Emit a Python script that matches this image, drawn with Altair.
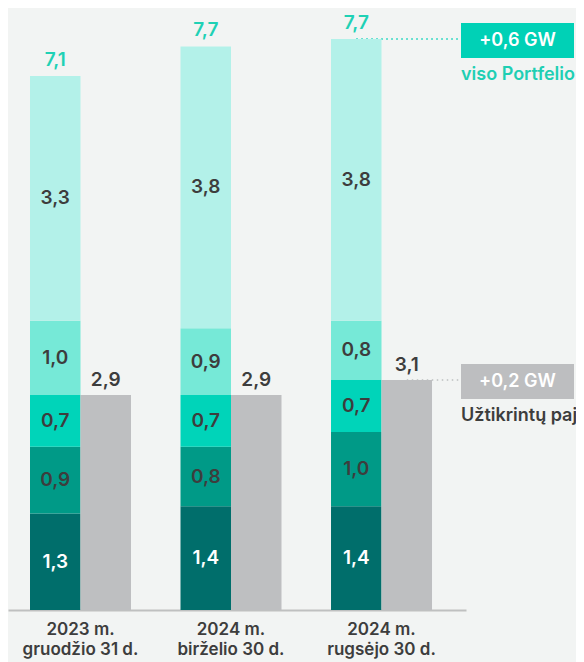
import altair as alt
import pandas as pd

# ---- data ----
groups = ["2023 m.|gruodžio 31 d.", "2024 m.|birželio 30 d.", "2024 m.|rugsėjo 30 d."]
kinds = ["Portfelis", "Užtikrinti pajėgumai"]
segments = ["Instaliuoti", "Statomi", "Užtikrinti", "Išvystyti", "Ankstyvos stadijos"]
seg_colors = ["#006e6b", "#009a87", "#00d4b9", "#76e9d7", "#b3f1e9"]

installed = [1.3, 1.4, 1.4]
under_construction = [0.9, 0.8, 1.0]
secured = [0.7, 0.7, 0.7]
advanced = [1.0, 0.9, 0.8]
early = [3.3, 3.8, 3.8]

portfolio_totals = [7.1, 7.7, 7.7]
secured_totals = [2.9, 2.9, 3.1]

annotation_labels = ["+0,6 GW", "+0,2 GW"]
annotation_captions = ["viso Portfelio", "Užtikrintų pajėgumų"]
annotation_colors = ["#00d1b6", "#bdbec0"]
caption_colors = ["#1fcfb3", "#3d3d3d"]

FONT = "Inter"
DARK = "#3d3d3d"
TEAL_TXT = "#1fd1b5"

# ---- tables ----
series = [installed, under_construction, secured, advanced, early]
rows = []
for gi, g in enumerate(groups):
    cum = 0.0
    for si, s in enumerate(segments):
        v = series[si][gi]
        rows.append({"group": g, "kind": kinds[0], "segment": s, "order": si,
                     "value": v, "mid": cum + v / 2,
                     "label": f"{v:.1f}".replace(".", ","),
                     "tc": "white" if si == 0 else DARK})
        cum += v
seg_df = pd.DataFrame(rows)

top_df = pd.DataFrame({
    "group": groups,
    "kind": kinds[0],
    "top": [sum(s[i] for s in series) for i in range(len(groups))],
    "label": [f"{t:.1f}".replace(".", ",") for t in portfolio_totals],
})

sec_df = pd.DataFrame({
    "group": groups,
    "kind": kinds[1],
    "value": secured_totals,
    "label": [f"{t:.1f}".replace(".", ",") for t in secured_totals],
})

ann_df = pd.DataFrame({
    "group": [groups[-1], groups[-1]],
    "kind": kinds,
    "anchor": [top_df["top"].iloc[-1], secured_totals[-1]],
    "label": annotation_labels,
    "caption": annotation_captions,
    "box": annotation_colors,
    "cc": caption_colors,
})

# ---- shared encodings ----
xscale = alt.Scale(domain=groups, paddingInner=0.3289, paddingOuter=0.186, align=0.393)
x_axis = alt.Axis(title=None, labelAngle=0, labelExpr="split(datum.label, '|')",
                  ticks=False, domainColor="#bfc0c0", domainWidth=2,
                  labelFont=FONT, labelFontSize=17, labelFontWeight=600,
                  labelColor=DARK, labelPadding=11, labelLineHeight=20,
                  labelBaseline="top", grid=False)
X = alt.X("group:N", scale=xscale, sort=groups, axis=x_axis)
XO = alt.XOffset("kind:N", scale=alt.Scale(domain=kinds, paddingInner=0, paddingOuter=0))
yscale = alt.Scale(domain=[0, 7.7], nice=False, zero=True)

# dotted leader lines (drawn first, bars cover part of them)
rules = alt.Chart(ann_df).mark_rule(strokeDash=[1.5, 3.5], strokeWidth=1.5).encode(
    x=X, xOffset=XO, x2=alt.value(453),
    y=alt.Y("anchor:Q", scale=yscale, axis=None),
    color=alt.Color("box:N", scale=None),
)

bars = alt.Chart(seg_df).mark_bar().encode(
    x=X, xOffset=XO,
    y=alt.Y("value:Q", stack="zero", scale=yscale, axis=None),
    color=alt.Color("segment:N", scale=alt.Scale(domain=segments, range=seg_colors), legend=None),
    order=alt.Order("order:Q", sort="ascending"),
)

grey = alt.Chart(sec_df).mark_bar(color="#bebfc1").encode(
    x=X, xOffset=XO,
    y=alt.Y("value:Q", scale=yscale, axis=None),
)

seg_text = alt.Chart(seg_df).mark_text(font=FONT, fontSize=19, fontWeight=600,
                                       baseline="middle").encode(
    x=X, xOffset=XO,
    y=alt.Y("mid:Q", scale=yscale, axis=None),
    text="label:N",
    color=alt.Color("tc:N", scale=None),
)

top_text = alt.Chart(top_df).mark_text(font=FONT, fontSize=19, fontWeight=600,
                                       baseline="alphabetic", dy=-10, color=TEAL_TXT).encode(
    x=X, xOffset=XO,
    y=alt.Y("top:Q", scale=yscale, axis=None),
    text="label:N",
)

sec_text = alt.Chart(sec_df).mark_text(font=FONT, fontSize=19, fontWeight=600,
                                       baseline="alphabetic", dy=-9, color=DARK).encode(
    x=X, xOffset=XO,
    y=alt.Y("value:Q", scale=yscale, axis=None),
    text="label:N",
)

boxes = alt.Chart(ann_df).mark_rect(yOffset=-16, y2Offset=19).encode(
    x=alt.value(453), x2=alt.value(566),
    y=alt.Y("anchor:Q", scale=yscale, axis=None),
    y2="anchor:Q",
    color=alt.Color("box:N", scale=None),
)

box_text = alt.Chart(ann_df).mark_text(font=FONT, fontSize=18, fontWeight=600,
                                       baseline="middle", align="center",
                                       dy=2, color="white").encode(
    x=alt.value(509.5),
    y=alt.Y("anchor:Q", scale=yscale, axis=None),
    text="label:N",
)

captions = alt.Chart(ann_df).mark_text(font=FONT, fontSize=18, fontWeight=600,
                                       baseline="middle", align="left", dy=36).encode(
    x=alt.value(453),
    y=alt.Y("anchor:Q", scale=yscale, axis=None),
    text="caption:N",
    color=alt.Color("cc:N", scale=None),
)

chart = alt.layer(rules, bars, grey, seg_text, top_text, sec_text, boxes, box_text, captions).properties(
    width=458, height=571,
    autosize=alt.AutoSizeParams(type="none"),
    padding={"left": 0, "top": 31, "right": 110, "bottom": 52},
    background="#f2f4f3",
).configure_view(stroke=None)

chart.save("out.html", embed_options={"renderer": "svg", "actions": False})
